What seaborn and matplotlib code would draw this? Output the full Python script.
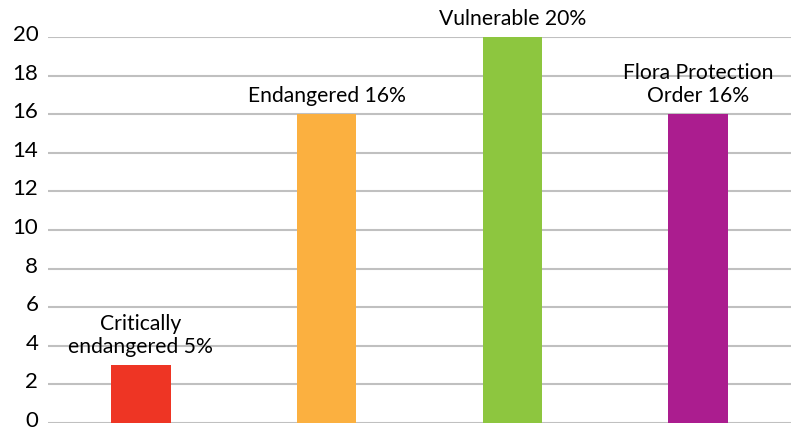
import matplotlib
matplotlib.use("Agg")
import matplotlib.pyplot as plt
import matplotlib.transforms as mtransforms
import seaborn as sns
import pandas as pd

categories = ["Critically endangered", "Endangered", "Vulnerable", "Flora Protection Order"]
values = [3, 16, 20, 16]
labels = ["Critically\nendangered 5%", "Endangered 16%", "Vulnerable 20%", "Flora Protection\nOrder 16%"]
colors = ["#EE3524", "#FBB040", "#8DC63F", "#AB1D8F"]

df = pd.DataFrame({"category": categories, "value": values})

sns.set_theme(style="white")
plt.rcParams["font.family"] = ["Lato", "DejaVu Sans"]

fig = plt.figure(figsize=(7.91, 4.30), dpi=100)
ax = fig.add_axes([48 / 791, 7 / 430, 1 - 48 / 791, (423 - 37) / 430])

sns.barplot(data=df, x="category", y="value", hue="category", palette=colors,
            width=0.32, legend=False, ax=ax, saturation=1, linewidth=0, zorder=3)

ax.set_ylim(0, 20)
ax.set_xlim(-0.5, 3.5)
ax.set_yticks(range(0, 21, 2))
ax.yaxis.grid(True, color="#C0C0C0", linewidth=1.5, zorder=0)
ax.set_axisbelow(True)
ax.tick_params(axis="y", labelsize=16, colors="black", pad=7, length=0)
ax.set_xticks([])
ax.set_xlabel("")
ax.set_ylabel("")
for s in ax.spines.values():
    s.set_visible(False)

# tick labels sit a little above their gridlines in the original
shift = mtransforms.ScaledTranslation(0, 4 / 100, fig.dpi_scale_trans)
for t in ax.get_yticklabels():
    t.set_transform(t.get_transform() + shift)

for i, (v, lab) in enumerate(zip(values, labels)):
    ax.text(i, v + 0.4, lab, ha="center", va="bottom", fontsize=15.2,
            color="black", linespacing=1.2, zorder=4)

plt.savefig("out.png", dpi=100)
